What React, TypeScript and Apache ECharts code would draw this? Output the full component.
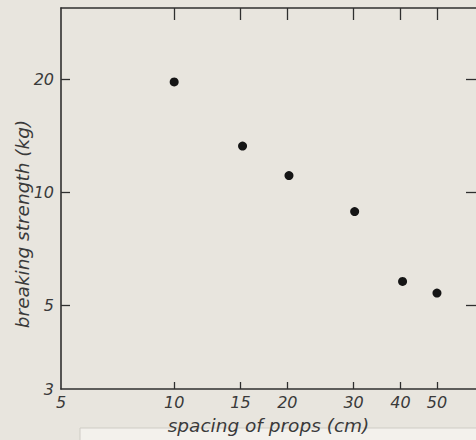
import React, { useEffect, useRef } from "react";
import * as echarts from "echarts";

// Data (log–log plot)
const spacingCm = [10, 15.2, 20.2, 30.2, 40.5, 50];
const strengthKg = [19.7, 13.3, 11.1, 8.9, 5.8, 5.4];

// Tick labels
const xTickValues = [5, 10, 15, 20, 30, 40, 50];
const yTickValues = [3, 5, 10, 20];

// Axis ranges
const xRange = [5, 63.5];
const yRange = [3, 31];

const xTitle = "spacing of props (cm)";
const yTitle = "breaking strength (kg)";

const ink = "#2f2f2f";
const textInk = "#3a3a3a";
const paper = "#e8e5de";
const font = "'DejaVu Sans', 'Liberation Sans', sans-serif";

export default function App() {
  const ref = useRef<HTMLDivElement>(null);

  useEffect(() => {
    if (!ref.current) return;
    const chart = echarts.init(ref.current, null, { renderer: "svg" });

    const labelStyle = {
      color: textInk,
      fontSize: 16,
      fontStyle: "italic" as const,
      fontFamily: font,
    };
    const tickLine = { color: ink, width: 1.3 };

    const option: any = {
      animation: false,
      backgroundColor: paper,
      grid: { left: 61, top: 8, right: -2, bottom: 51, containLabel: false },
      xAxis: [
        {
          type: "log",
          logBase: 10,
          min: xRange[0],
          max: xRange[1],
          position: "bottom",
          name: xTitle,
          nameLocation: "middle",
          nameGap: 27,
          nameTextStyle: { ...labelStyle, fontSize: 18.5 },
          axisLine: { show: true, lineStyle: { color: ink, width: 1.6 } },
          axisTick: {
            show: true,
            inside: true,
            length: 7,
            customValues: xTickValues.slice(1),
            lineStyle: tickLine,
          },
          axisLabel: {
            show: true,
            customValues: xTickValues,
            formatter: (v: number) => String(Math.round(v)),
            margin: 5,
            ...labelStyle,
          },
          splitLine: { show: false },
          minorTick: { show: false },
        },
        {
          type: "log",
          logBase: 10,
          min: xRange[0],
          max: xRange[1],
          position: "top",
          axisLine: { show: true, lineStyle: { color: ink, width: 1.6 } },
          axisTick: {
            show: true,
            inside: true,
            length: 12,
            customValues: xTickValues.slice(1),
            lineStyle: tickLine,
          },
          axisLabel: { show: false },
          splitLine: { show: false },
        },
      ],
      yAxis: [
        {
          type: "log",
          logBase: 10,
          min: yRange[0],
          max: yRange[1],
          position: "left",
          axisLine: { show: true, lineStyle: { color: ink, width: 1.6 } },
          axisTick: {
            show: true,
            inside: true,
            length: 9,
            customValues: yTickValues.slice(1),
            lineStyle: tickLine,
          },
          axisLabel: {
            show: true,
            customValues: yTickValues,
            formatter: (v: number) => String(Math.round(v)),
            margin: 7,
            ...labelStyle,
          },
          splitLine: { show: false },
        },
        {
          type: "log",
          logBase: 10,
          min: yRange[0],
          max: yRange[1],
          position: "right",
          axisLine: { show: false },
          axisTick: {
            show: true,
            inside: true,
            length: 10,
            customValues: yTickValues.slice(1),
            lineStyle: tickLine,
          },
          axisLabel: { show: false },
          splitLine: { show: false },
        },
      ],
      graphic: [
        {
          type: "rect",
          z: -1,
          shape: { x: 80, y: 428, width: 400, height: 14 },
          style: { fill: "#f3f1ec", stroke: "#cfccc5", lineWidth: 1 },
        },
        {
          type: "text",
          x: 22,
          y: 224,
          rotation: Math.PI / 2,
          style: {
            text: yTitle,
            align: "center",
            verticalAlign: "middle",
            fill: textInk,
            fontSize: 18.5,
            fontStyle: "italic",
            fontFamily: font,
          },
        },
      ],
      series: [
        {
          type: "scatter",
          xAxisIndex: 0,
          yAxisIndex: 0,
          symbol: "circle",
          symbolSize: 9,
          itemStyle: { color: "#151515", opacity: 1 },
          data: spacingCm.map((x, i) => [x, strengthKg[i]]),
        },
      ],
    };

    chart.setOption(option);
    return () => chart.dispose();
  }, []);

  return (
    <div
      ref={ref}
      style={{ position: "fixed", left: 0, top: 0, width: 476, height: 440 }}
    />
  );
}
